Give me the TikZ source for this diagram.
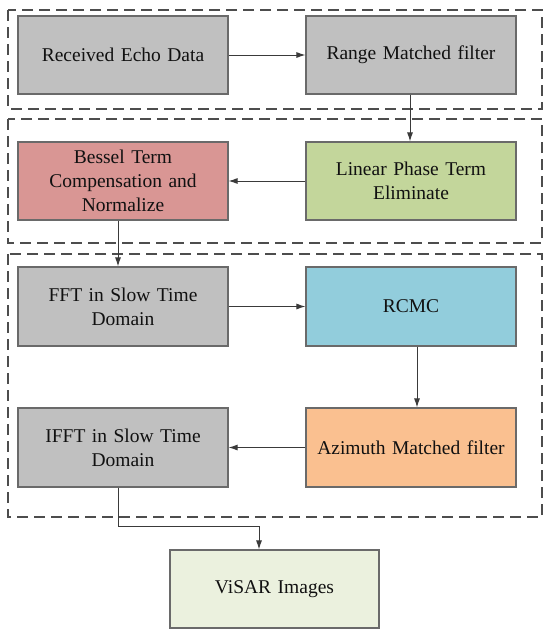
\documentclass[tikz,border=0pt]{standalone}
\usepackage{fontspec}
\setmainfont{Liberation Serif}
\usetikzlibrary{arrows.meta}
\definecolor{boxgray}{HTML}{C0C0C0}
\definecolor{boxred}{HTML}{D99694}
\definecolor{boxgreen}{HTML}{C3D69B}
\definecolor{boxblue}{HTML}{92CDDC}
\definecolor{boxorange}{HTML}{FAC090}
\definecolor{boxpale}{HTML}{EBF1DE}
\definecolor{edgegray}{HTML}{6A6A6A}
\definecolor{textdark}{HTML}{111111}
\definecolor{framegray}{HTML}{4D4D4D}
\definecolor{linegray}{HTML}{3A3A3A}
\tikzset{
  procbox/.style={draw=edgegray, line width=1.1pt, rectangle, minimum width=210pt, minimum height=78pt,
    inner sep=2pt, align=center, text=textdark, font=\fontsize{19.5}{24}\selectfont, text width=200pt},
  frame/.style={draw=framegray, line width=1.3pt, dash pattern=on 11pt off 6pt},
  arr/.style={draw=linegray, line width=1pt, -{Latex[length=9pt,width=6pt]}}
}
\begin{document}
\begin{tikzpicture}[x=1pt,y=-1pt]
\useasboundingbox[fill=white] (0,0) rectangle (550,637);
% dashed frames
\draw[frame] (8,10) rectangle (542,109);
\draw[frame] (8,119) rectangle (542,243);
\draw[frame] (8,254) rectangle (542,517);
% boxes
\node[procbox, fill=boxgray] (rx) at (123,55) {Received Echo Data};
\node[procbox, fill=boxgray] (rmf) at (411,55) {Range Matched filter};
\node[procbox, fill=boxgreen] (lin) at (411,181) {Linear Phase Term\\Eliminate};
\node[procbox, fill=boxred] (bes) at (123,181) {Bessel Term\\Compensation and\\Normalize};
\node[procbox, fill=boxgray, minimum height=79pt] (fft) at (123,306.5) {FFT in Slow Time\\Domain};
\node[procbox, fill=boxblue, minimum height=79pt] (rcmc) at (411,306.5) {RCMC};
\node[procbox, fill=boxorange, minimum height=79pt] (azi) at (411,447.5) {Azimuth Matched filter};
\node[procbox, fill=boxgray, minimum height=79pt] (ifft) at (123,447.5) {IFFT in Slow Time\\Domain};
\node[procbox, fill=boxpale, minimum width=209pt] (vis) at (274.5,589) {ViSAR Images};
% connectors
\draw[arr] (rx) -- (rmf);
\draw[arr] ([xshift=-1pt]rmf.south) -- ([xshift=-1pt]lin.north);
\draw[arr] (lin) -- (bes);
\draw[arr] ([xshift=-5pt]bes.south) -- ([xshift=-5pt]fft.north);
\draw[arr] (fft) -- (rcmc);
\draw[arr] ([xshift=6pt]rcmc.south) -- ([xshift=6pt]azi.north);
\draw[arr] (azi) -- (ifft);
\coordinate (bend) at (118,526);
\draw[arr] ([xshift=-5pt]ifft.south) -- (bend) -| ([xshift=-15.5pt]vis.north);
\end{tikzpicture}
\end{document}
